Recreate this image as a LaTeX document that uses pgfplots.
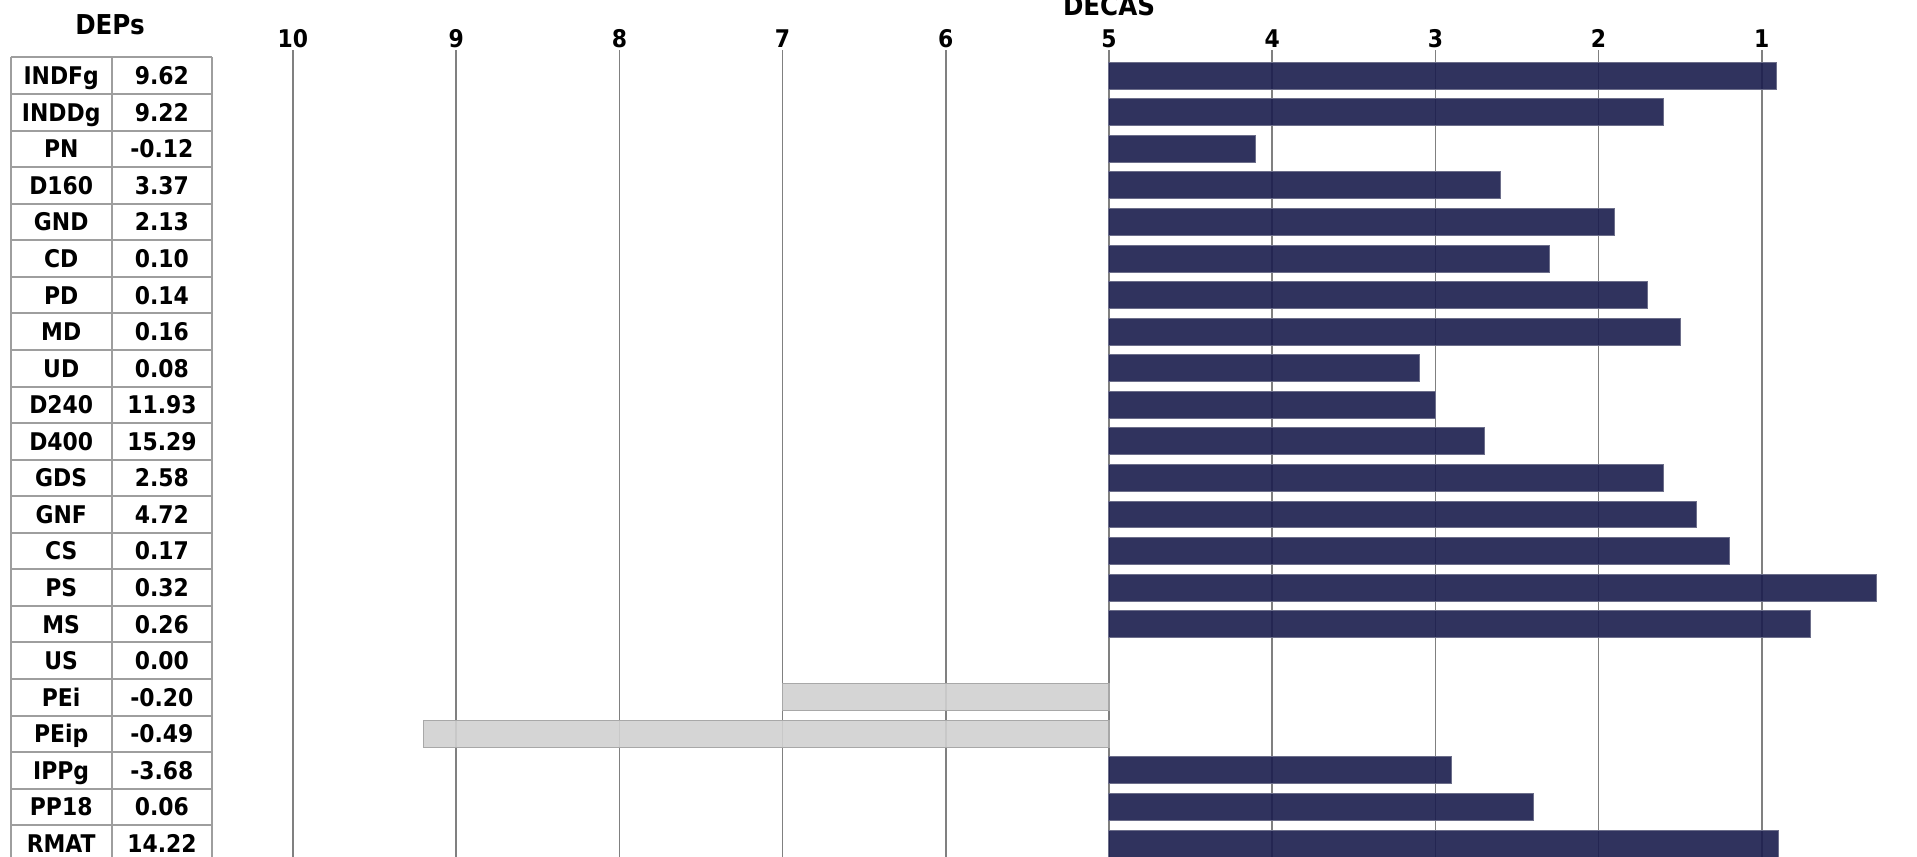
\documentclass[border=0pt]{standalone}
\usepackage{fontspec}
\setmainfont{DejaVu Sans}[FakeStretch=0.9]
\usepackage{pgfplots}
\usepackage{pgfplotstable}
\pgfplotsset{compat=1.18}
\definecolor{barnavy}{HTML}{1A1D4D}
\definecolor{baredge}{HTML}{6C6E8A}
\definecolor{bargray}{HTML}{D0D0D0}
\definecolor{grayedge}{HTML}{A8A8A8}

% row index (0 = top) and decas value
\pgfplotstableread{
row decas
0  0.91
1  1.60
2  4.10
3  2.60
4  1.90
5  2.30
6  1.70
7  1.50
8  3.10
9  3.00
10 2.70
11 1.60
12 1.40
13 1.20
14 0.30
15 0.70
19 2.90
20 2.40
21 0.90
}\darkbars
\pgfplotstableread{
row decas
17 7.0
18 9.2
}\graybars

\begin{document}
\begin{tikzpicture}
\path[use as bounding box] (0pt,0pt) rectangle (575.1pt,-256.8pt);
\begin{axis}[
    at={(-10.02pt,-15.06pt)}, anchor=north west,
    scale only axis, width=587.52pt, height=243.48pt,
    x dir=reverse, y dir=reverse,
    xmin=-5, xmax=7, ymin=-0.7, ymax=21.5,
    xtick={-4,-3,-2,-1,0,1,2,3,4,5},
    xticklabels={1,2,3,4,5,6,7,8,9,10},
    ytick=\empty,
    xticklabel pos=upper,
    xmajorgrids,
    grid style={draw=black!50, line width=0.5pt},
    axis line style={draw=none},
    tick style={draw=none},
    xticklabel style={font=\fontsize{7.3}{8}\selectfont\bfseries, anchor=base, yshift=0.9pt},
]
\addplot[xbar, bar shift=0pt, bar width=0.738, fill=barnavy, fill opacity=0.9, draw=baredge, line width=0.3pt]
    table[x expr=\thisrow{decas}-5, y=row]{\darkbars};
\addplot[xbar, bar shift=0pt, bar width=0.738, fill=bargray, fill opacity=0.9, draw=grayedge, line width=0.4pt]
    table[x expr=\thisrow{decas}-5, y=row]{\graybars};
\end{axis}
\begin{scope}[x=0.3pt, y=-0.3pt, font=\fontsize{7.3}{8}\selectfont\bfseries]
  \node[font=\fontsize{8.2}{9}\selectfont\bfseries, anchor=base] at (1109,16) {DECAS};
  \node[font=\fontsize{8.2}{9}\selectfont\bfseries, anchor=base] at (110,35) {DEPs};
  \foreach \i in {0,...,22} {
    \draw[black!38, line width=0.6pt] (10.7,57.5+36.56*\i) -- (212,57.5+36.56*\i);
  }
  \foreach \xx in {10.7,111.7,212} {
    \draw[black!38, line width=0.6pt] (\xx,57.5) -- (\xx,870);
  }
  \foreach \nm/\val [count=\i from 0] in {INDFg/9.62, INDDg/9.22, PN/-0.12, D160/3.37,
      GND/2.13, CD/0.10, PD/0.14, MD/0.16, UD/0.08, D240/11.93, D400/15.29,
      GDS/2.58, GNF/4.72, CS/0.17, PS/0.32, MS/0.26, US/0.00, PEi/-0.20,
      PEip/-0.49, IPPg/-3.68, PP18/0.06, RMAT/14.22} {
    \node[anchor=base, inner sep=0pt] at (61.2,84.7+36.56*\i) {\nm};
    \node[anchor=base, inner sep=0pt] at (161.9,84.7+36.56*\i) {\val};
  }
\end{scope}
\end{tikzpicture}
\end{document}
